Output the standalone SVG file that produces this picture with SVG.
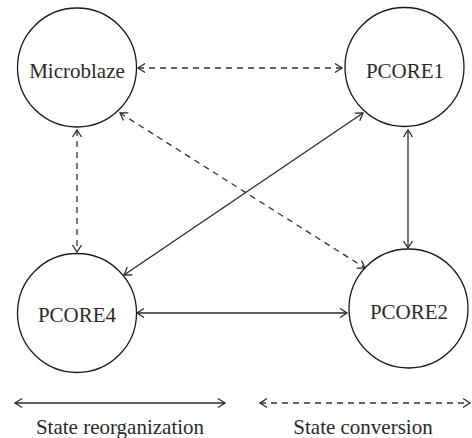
<svg xmlns="http://www.w3.org/2000/svg" width="472" height="438" viewBox="0 0 472 438">
  <style>
    .node { fill: #ffffff; stroke: #1a1a1a; stroke-width: 1.3; }
    .label { font-family: "Liberation Serif", "Times New Roman", serif; font-size: 21px; fill: #2a2a2a; text-anchor: middle; }
    .solid { stroke: #2a2a2a; stroke-width: 1.3; fill: none; }
    .dashed { stroke: #333333; stroke-width: 1.3; fill: none; stroke-dasharray: 6 5; }
  </style>
  <defs>
    <marker id="arrow" markerUnits="userSpaceOnUse" markerWidth="12" markerHeight="12" viewBox="-9 -6 12 12" refX="0" refY="0" orient="auto-start-reverse">
      <path d="M-7,-4.5 L0,0 L-7,4.5" fill="none" stroke="#2a2a2a" stroke-width="1.3" stroke-dasharray="none"/>
    </marker>
  </defs>
  <g id="connectors">
    <line class="dashed" x1="138" y1="68" x2="342" y2="68" marker-start="url(#arrow)" marker-end="url(#arrow)"/>
    <line class="dashed" x1="77" y1="130" x2="77" y2="252" marker-start="url(#arrow)" marker-end="url(#arrow)"/>
    <line class="dashed" x1="120" y1="113" x2="365" y2="268" marker-start="url(#arrow)" marker-end="url(#arrow)"/>
    <line class="solid" x1="363" y1="113" x2="124" y2="275" marker-start="url(#arrow)" marker-end="url(#arrow)"/>
    <line class="solid" x1="408" y1="130" x2="408" y2="248" marker-start="url(#arrow)" marker-end="url(#arrow)"/>
    <line class="solid" x1="137" y1="313" x2="347" y2="313" marker-start="url(#arrow)" marker-end="url(#arrow)"/>
  </g>
  <g id="microblaze">
    <circle class="node" cx="77" cy="67.5" r="59.5"/>
    <text class="label" x="77" y="78">Microblaze</text>
  </g>
  <g id="pcore1">
    <circle class="node" cx="404.5" cy="67" r="59.5"/>
    <text class="label" x="405" y="78">PCORE1</text>
  </g>
  <g id="pcore4">
    <circle class="node" cx="77" cy="313" r="59.5"/>
    <text class="label" x="77" y="322">PCORE4</text>
  </g>
  <g id="pcore2">
    <circle class="node" cx="408.5" cy="308.5" r="59.5"/>
    <text class="label" x="409" y="319">PCORE2</text>
  </g>
  <g id="legend">
    <line class="solid" x1="15" y1="403" x2="225" y2="403" marker-start="url(#arrow)" marker-end="url(#arrow)"/>
    <text class="label" x="120" y="434">State reorganization</text>
    <line class="dashed" x1="260" y1="403" x2="470" y2="403" marker-start="url(#arrow)" marker-end="url(#arrow)"/>
    <text class="label" x="363" y="434">State conversion</text>
  </g>
</svg>
